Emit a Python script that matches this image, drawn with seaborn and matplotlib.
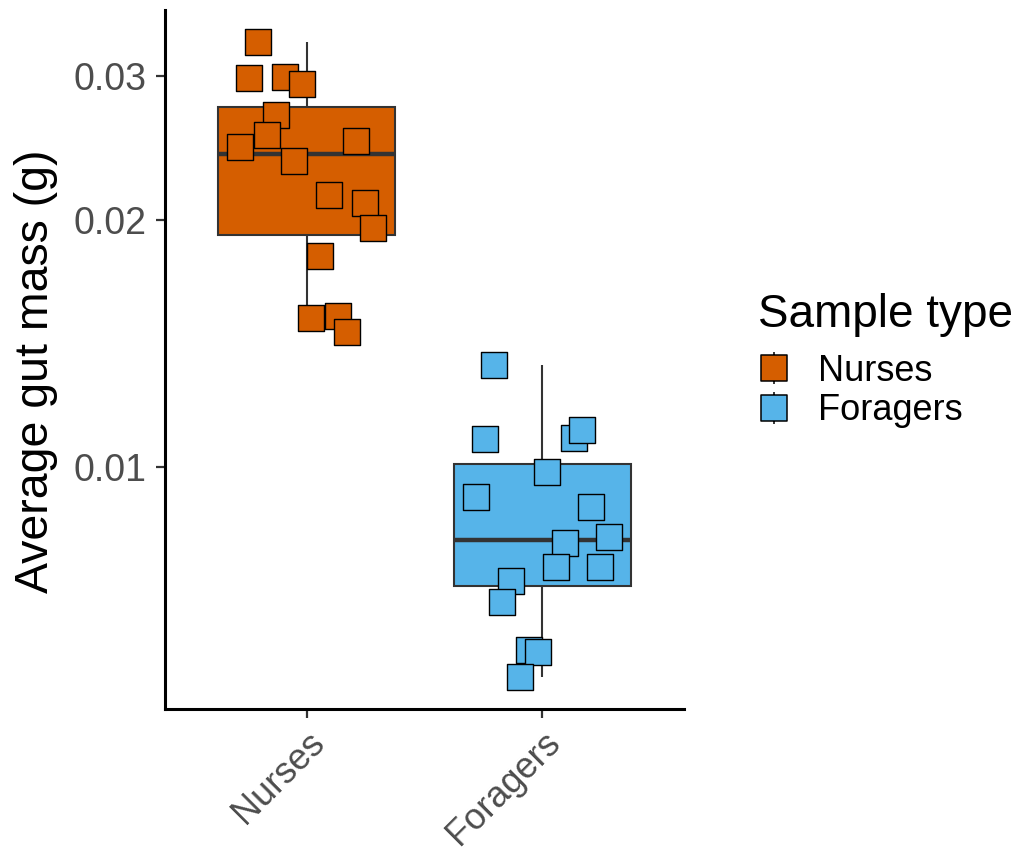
import matplotlib
matplotlib.use('Agg')
import matplotlib.pyplot as plt
from matplotlib.lines import Line2D
from matplotlib.path import Path
import pandas as pd
import seaborn as sns

# data (grams)
sample_types = ['Nurses', 'Foragers']
colors = ['#D55E00', '#56B4E9']

nurses_mass = [0.0330, 0.0298, 0.0299, 0.0293, 0.0269, 0.0254, 0.0246, 0.0250,
               0.0236, 0.0215, 0.0210, 0.0196, 0.0181, 0.0152, 0.0153, 0.0146]
foragers_mass = [0.01332, 0.01082, 0.01086, 0.01109, 0.00987, 0.00920, 0.00895, 0.00821,
                 0.00809, 0.00755, 0.00755, 0.00727, 0.00685, 0.00598, 0.00595, 0.00555]

# horizontal jitter of each point (category units)
nurses_jitter = [-0.205, -0.243, -0.093, -0.018, -0.130, -0.168, -0.281, 0.209,
                 -0.055, 0.094, 0.246, 0.283, 0.056, 0.020, 0.133, 0.171]
foragers_jitter = [-0.207, -0.245, 0.132, 0.169, 0.019, -0.282, 0.207, 0.281,
                   0.094, 0.056, 0.243, -0.132, -0.170, -0.059, -0.019, -0.094]

y_ticks = [0.01, 0.02, 0.03]
y_tick_labels = ['0.01', '0.02', '0.03']

df = pd.DataFrame({
    'type': ['Nurses'] * len(nurses_mass) + ['Foragers'] * len(foragers_mass),
    'mass': nurses_mass + foragers_mass,
    'jitter': nurses_jitter + foragers_jitter,
})
df['pos'] = df['type'].map({t: i for i, t in enumerate(sample_types)}) + df['jitter']

sns.set_style('ticks')
plt.rcParams['font.family'] = ['Liberation Sans', 'DejaVu Sans']

fig = plt.figure(figsize=(10.2, 8.57), dpi=100)
ax = fig.add_axes([0.1618, 0.1727, 0.5088, 0.8156])

# boxes
sns.boxplot(data=df, x='type', y='mass', hue='type', order=sample_types,
            hue_order=sample_types, palette=colors, saturation=1, width=0.75,
            dodge=False, showfliers=False, showcaps=False, linecolor='#333333',
            linewidth=1.5, medianprops={'linewidth': 3.2, 'color': '#333333'},
            log_scale=True, legend=False, ax=ax)

# jittered points
for t, c in zip(sample_types, colors):
    sub = df[df['type'] == t]
    ax.scatter(sub['pos'], sub['mass'], marker='s', s=330, facecolor=c,
               edgecolor='black', linewidths=1.0, zorder=5)

ax.set_yscale('log')
ax.set_ylim(0.00507, 0.0361)
ax.set_xlim(-0.6, 1.6)
ax.set_yticks(y_ticks)
ax.set_yticklabels(y_tick_labels)
ax.yaxis.set_minor_locator(matplotlib.ticker.NullLocator())
ax.set_xticks([0, 1])
ax.set_xticklabels(sample_types, rotation=45, ha='right', va='top',
                   rotation_mode='anchor')

ax.tick_params(axis='both', labelcolor='#4D4D4D', color='#333333',
               length=6.5, width=1.6)
ax.tick_params(axis='y', labelsize=27, pad=7)
ax.tick_params(axis='x', labelsize=26, pad=5)
ax.set_xlabel('')
ax.set_ylabel('Average gut mass (g)', fontsize=33.5, color='black')
ax.yaxis.set_label_coords(-0.206, 0.483)

sns.despine(ax=ax)
for side in ['left', 'bottom']:
    ax.spines[side].set_linewidth(2.2)
    ax.spines[side].set_color('black')

# legend key: filled square with short whisker stubs above and below
key_path = Path(
    [(-0.5, -0.5), (0.5, -0.5), (0.5, 0.5), (-0.5, 0.5), (-0.5, -0.5),
     (0, 0.5), (0, 0.64), (0, -0.5), (0, -0.64)],
    [Path.MOVETO, Path.LINETO, Path.LINETO, Path.LINETO, Path.CLOSEPOLY,
     Path.MOVETO, Path.LINETO, Path.MOVETO, Path.LINETO])
handles = [Line2D([], [], marker=key_path, markersize=23.5, markerfacecolor=c,
                  markeredgecolor='black', markeredgewidth=1.1, linestyle='None')
           for c in colors]

fig.text(758 / 1020, 1 - 327 / 857, 'Sample type', fontsize=33,
         ha='left', va='baseline', color='black')
ax.legend(handles, sample_types, loc='upper left',
          bbox_to_anchor=(756 / 1020, 1 - 354 / 857),
          bbox_transform=fig.transFigure, frameon=False, fontsize=26,
          labelcolor='black', handlelength=1.0, handletextpad=0.72,
          labelspacing=0.12, borderpad=0, borderaxespad=0)

fig.savefig('out.png', dpi=100)
